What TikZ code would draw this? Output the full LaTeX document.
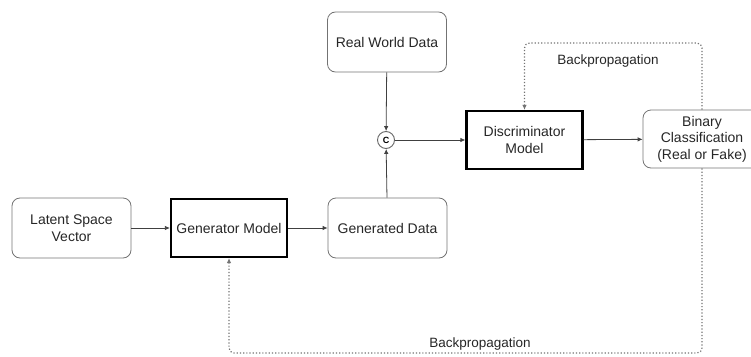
\documentclass[tikz,border=0pt]{standalone}
\usepackage{fontspec}
\setmainfont{Liberation Sans}
\usetikzlibrary{arrows.meta}

\begin{document}
\begin{tikzpicture}[x=1pt, y=-1pt, >={Latex[length=5pt,width=4.5pt]},
  box/.style={draw=black!55, line width=0.8pt, rounded corners=8pt, minimum width=119pt, minimum height=60pt, align=center, inner sep=1pt, text=black!85, font=\fontsize{14}{16.5}\selectfont},
  model/.style={draw=black, line width=2.2pt, minimum width=116pt, minimum height=58pt, align=center, inner sep=1pt, text=black!85, font=\fontsize{14}{16.5}\selectfont},
  flow/.style={->, draw=black!75, line width=0.8pt},
  back/.style={->, draw=black!55, dotted, line width=1.2pt, rounded corners=5pt},
  tag/.style={text=black!85, font=\fontsize{13.5}{16}\selectfont}]
\useasboundingbox (0,0) rectangle (751,356);
% boxes
\node[box] (lsv) at (71.5,228) {Latent Space\\Vector};
\node[model] (gen) at (229,228) {Generator Model};
\node[box] (gdata) at (387.5,228) {Generated Data};
\node[box] (rwd) at (387,42) {Real World Data};
\node[circle, draw=black!60, line width=0.9pt, inner sep=0pt, minimum size=17pt, font=\bfseries\small] (c) at (386,140) {C};
\node[model] (disc) at (524.5,140) {Discriminator\\Model};
\node[box, minimum width=118pt, minimum height=58pt] (bin) at (702,139) {Binary\\Classification\\(Real or Fake)};
% data flow
\draw[flow] (lsv) -- (gen);
\draw[flow] (gen) -- (gdata);
\draw[flow] (rwd) -- (c);
\draw[flow] (gdata) -- (c);
\draw[flow] (c) -- (disc);
\draw[flow] (disc) -- (bin);
% feedback
\coordinate (topr) at (702,43);
\coordinate (botr) at (702,353);
\draw[back] (bin.north) -- (topr) -| (disc.north);
\node[tag] (bptop) at (608,61) {Backpropagation};
\draw[back] (bin.south) -- (botr) -| (gen.south);
\node[tag] (bpbot) at (480,344) {Backpropagation};
\end{tikzpicture}
\end{document}
